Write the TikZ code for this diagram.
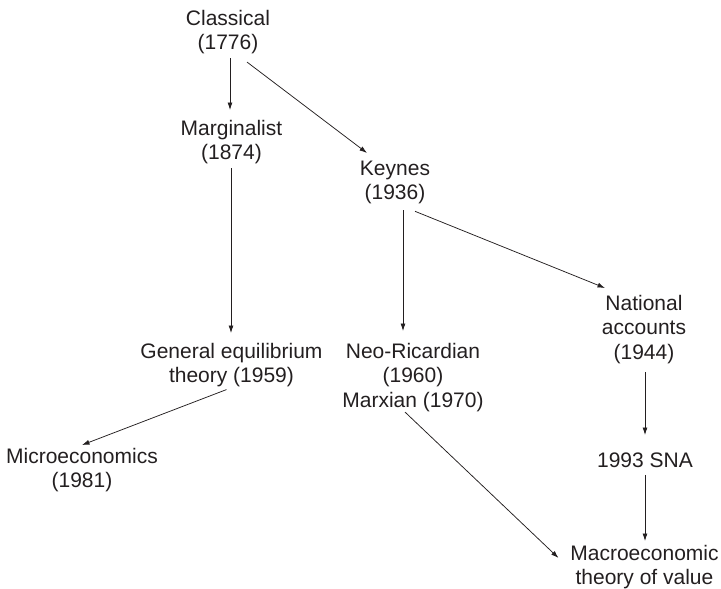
\documentclass[tikz,border=0pt]{standalone}
\usepackage{fontspec}
\setmainfont{Liberation Sans}
\usetikzlibrary{arrows.meta}
\definecolor{ink}{RGB}{35,31,32}
\begin{document}
\begin{tikzpicture}[x=1pt,y=1pt,
  lbl/.style={anchor=north, align=center, inner sep=0pt, outer sep=0pt,
    text=ink, font=\fontsize{21}{24.5}\selectfont},
  arr/.style={draw=ink, line width=0.75pt,
    -{Latex[length=7.5pt,width=5pt]}}]
\useasboundingbox (0,0) rectangle (721,-589);

% schools of thought, year of origin in brackets
\node[lbl] (cls) at (228,-10)   {Classical\\(1776)};
\node[lbl] (mar) at (231.5,-120) {Marginalist\\(1874)};
\node[lbl] (key) at (395,-161)  {Keynes\\(1936)};
\node[lbl] (nat) at (644,-295)  {National\\accounts\\(1944)};
\node[lbl] (gen) at (231.5,-343) {General equilibrium\\theory (1959)};
\node[lbl] (neo) at (413,-343)  {Neo-Ricardian\\(1960)\\Marxian (1970)};
\node[lbl] (mic) at (82,-448)   {Microeconomics\\(1981)};
\node[lbl] (sna) at (645,-453)  {1993 SNA};
\node[lbl] (mac) at (644.5,-545) {Macroeconomic\\theory of value};

% lines of descent
\draw[arr] ([shift={(2,-4)}]cls.south) -- ([shift={(-1.5,10)}]mar.north);
\draw[arr] ([shift={(19,-8)}]cls.south) -- ([shift={(-28,8)}]key.north);
\draw[arr] ([shift={(-0.5,-4)}]mar.south) -- ([shift={(-0.5,10)}]gen.north);
\draw[arr] ([shift={(8,-6)}]key.south) -- ([shift={(-10,12)}]neo.north);
\draw[arr] ([shift={(20,-7)}]key.south) -- ([shift={(-39,7)}]nat.north);
\draw[arr] ([shift={(-5,-2.5)}]gen.south) -- ([shift={(0,3)}]mic.north);
\draw[arr] ([shift={(-8,-0.5)}]neo.south) -- ([shift={(-86,-13)}]mac.north);
\draw[arr] ([shift={(1,-8.5)}]nat.south) -- ([shift={(0,18)}]sna.north);
\draw[arr] ([shift={(0,-7)}]sna.south) -- ([shift={(0.5,4)}]mac.north);
\end{tikzpicture}
\end{document}
